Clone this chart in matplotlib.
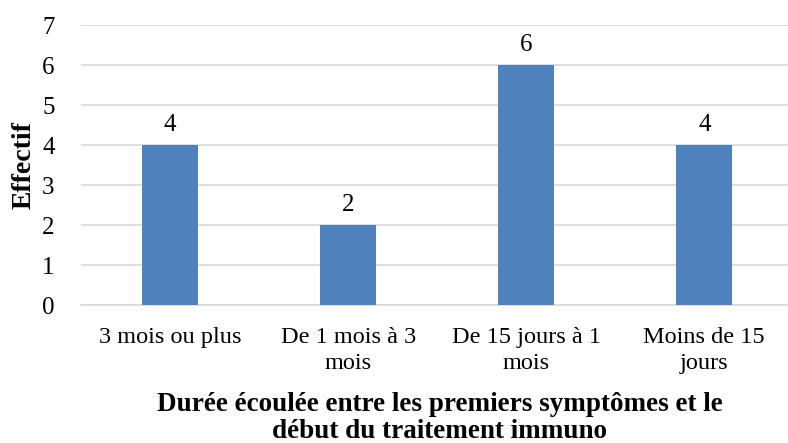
import matplotlib
matplotlib.use("Agg")
import matplotlib.pyplot as plt

categories = ["3 mois ou plus", "De 1 mois à 3\nmois", "De 15 jours à 1\nmois", "Moins de 15\njours"]
effectif = [4, 2, 6, 4]

plt.rcParams["font.family"] = ["Liberation Serif", "DejaVu Serif"]

fig = plt.figure(figsize=(7.88, 4.43), dpi=100)
ax = fig.add_axes([81 / 788, 138 / 443, 707 / 788, 280 / 443])

x = list(range(len(categories)))
bars = ax.bar(x, effectif, width=0.315, color="#4F81BD", zorder=3)
for b, v in zip(bars, effectif):
    ax.text(b.get_x() + b.get_width() / 2, v + 0.22, str(v),
            ha="center", va="bottom", fontsize=18)

ax.set_xlim(-0.5, 3.47)
ax.set_ylim(0, 7)
ax.set_yticks(range(0, 8))
ax.set_xticks(x)
ax.set_xticklabels(categories, fontsize=17.5, linespacing=1.3)
ax.tick_params(axis="y", labelsize=18, length=0, pad=19)
ax.tick_params(axis="x", length=0, pad=16)
ax.grid(axis="y", color="#D9D9D9", linewidth=1.2, zorder=0)
for s in ["top", "right", "left"]:
    ax.spines[s].set_visible(False)
ax.spines["bottom"].set_color("#D9D9D9")
ax.spines["bottom"].set_linewidth(1.2)

ax.set_ylabel("Effectif", fontsize=20, fontweight="bold")
ax.yaxis.set_label_coords(-44 / 707, 0.5)
ax.set_xlabel("Durée écoulée entre les premiers symptômes et le\ndébut du traitement immuno",
              fontsize=19.5, fontweight="bold", linespacing=1.1)
ax.xaxis.set_label_coords(359 / 707, -87 / 280)

fig.savefig("out.png", dpi=100)
